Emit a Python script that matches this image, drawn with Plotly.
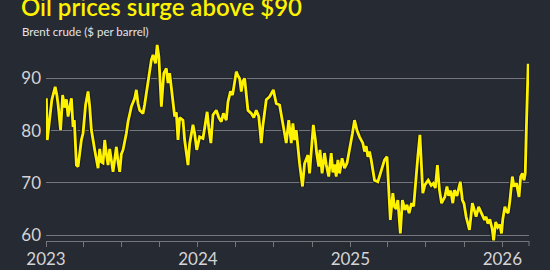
import plotly.graph_objects as go

# Brent crude, $ per barrel
dates = [
    "2023-01-02", "2023-01-04", "2023-01-15", "2023-01-23", "2023-01-27", "2023-01-30",
    "2023-02-05", "2023-02-10", "2023-02-15", "2023-02-19", "2023-02-23", "2023-03-03",
    "2023-03-07", "2023-03-10", "2023-03-15", "2023-03-19", "2023-03-27", "2023-03-31",
    "2023-04-06", "2023-04-12", "2023-04-16", "2023-04-20", "2023-04-28", "2023-05-06",
    "2023-05-10", "2023-05-14", "2023-05-18", "2023-05-22", "2023-05-26", "2023-05-30",
    "2023-06-03", "2023-06-07", "2023-06-11", "2023-06-15", "2023-06-19", "2023-06-23",
    "2023-06-27", "2023-07-01", "2023-07-05", "2023-07-13", "2023-07-17", "2023-07-25",
    "2023-08-02", "2023-08-06", "2023-08-10", "2023-08-14", "2023-08-22", "2023-08-26",
    "2023-09-03", "2023-09-11", "2023-09-15", "2023-09-21", "2023-09-25", "2023-09-29",
    "2023-10-05", "2023-10-08", "2023-10-11", "2023-10-17", "2023-10-21", "2023-10-25",
    "2023-10-29", "2023-11-06", "2023-11-10", "2023-11-14", "2023-11-18", "2023-11-26",
    "2023-11-30", "2023-12-08", "2023-12-12", "2023-12-20", "2023-12-24", "2023-12-29",
    "2024-01-05", "2024-01-13", "2024-01-17", "2024-01-23", "2024-01-27", "2024-02-01",
    "2024-02-06", "2024-02-14", "2024-02-20", "2024-02-26", "2024-03-02", "2024-03-09",
    "2024-03-13", "2024-03-19", "2024-03-24", "2024-04-02", "2024-04-06", "2024-04-10",
    "2024-04-14", "2024-04-18", "2024-04-22", "2024-04-26", "2024-04-30", "2024-05-08",
    "2024-05-14", "2024-05-20", "2024-05-26", "2024-06-01", "2024-06-05", "2024-06-13",
    "2024-06-21", "2024-06-30", "2024-07-07", "2024-07-15", "2024-07-23", "2024-07-31",
    "2024-08-06", "2024-08-12", "2024-08-16", "2024-08-20", "2024-08-24", "2024-08-28",
    "2024-09-01", "2024-09-08", "2024-09-13", "2024-09-17", "2024-09-21", "2024-09-25",
    "2024-09-30", "2024-10-04", "2024-10-09", "2024-10-12", "2024-10-17", "2024-10-20",
    "2024-10-25", "2024-10-31", "2024-11-04", "2024-11-10", "2024-11-16", "2024-11-20",
    "2024-11-24", "2024-11-28", "2024-12-02", "2024-12-06", "2024-12-12", "2024-12-18",
    "2024-12-24", "2025-01-01", "2025-01-06", "2025-01-11", "2025-01-17", "2025-01-23",
    "2025-01-31", "2025-02-04", "2025-02-08", "2025-02-12", "2025-02-16", "2025-02-20",
    "2025-02-28", "2025-03-08", "2025-03-16", "2025-03-24", "2025-03-30", "2025-04-04",
    "2025-04-07", "2025-04-13", "2025-04-17", "2025-04-21", "2025-04-25", "2025-05-01",
    "2025-05-06", "2025-05-12", "2025-05-17", "2025-05-22", "2025-05-28", "2025-06-02",
    "2025-06-07", "2025-06-12", "2025-06-17", "2025-06-21", "2025-06-24", "2025-06-29",
    "2025-07-07", "2025-07-14", "2025-07-19", "2025-07-24", "2025-07-29", "2025-08-03",
    "2025-08-08", "2025-08-16", "2025-08-21", "2025-08-25", "2025-08-30", "2025-09-04",
    "2025-09-08", "2025-09-14", "2025-09-22", "2025-09-27", "2025-10-01", "2025-10-06",
    "2025-10-14", "2025-10-21", "2025-10-25", "2025-10-30", "2025-11-05", "2025-11-12",
    "2025-11-19", "2025-11-23", "2025-11-27", "2025-12-02", "2025-12-08", "2025-12-11",
    "2025-12-16", "2025-12-21", "2025-12-26", "2025-12-30", "2026-01-02", "2026-01-07",
    "2026-01-11", "2026-01-15", "2026-01-19", "2026-01-25", "2026-01-29", "2026-02-04",
    "2026-02-10", "2026-02-14", "2026-02-18", "2026-02-22", "2026-02-25", "2026-02-28",
    "2026-03-02", "2026-03-04",
]
brent = [
    86.2, 78.2, 85.9, 88.4, 86.8, 85.0,
    80.1, 86.8, 84.4, 86.0, 82.7, 86.2,
    80.7, 82.0, 73.4, 73.1, 78.2, 79.5,
    84.9, 87.5, 84.6, 80.1, 76.3, 72.8,
    76.5, 74.0, 73.8, 78.2, 75.5, 73.4,
    76.5, 74.0, 72.1, 74.5, 76.9, 74.0,
    72.1, 75.5, 76.3, 79.5, 81.7, 84.6,
    86.2, 87.8, 85.2, 83.9, 83.3, 85.0,
    89.7, 93.5, 94.5, 92.9, 96.4, 94.2,
    84.6, 87.5, 91.0, 91.9, 89.1, 91.0,
    87.8, 82.7, 83.5, 78.2, 82.5, 82.0,
    78.2, 73.4, 77.5, 81.1, 79.5, 76.3,
    78.8, 78.5, 80.5, 83.6, 80.5, 77.6,
    83.0, 83.9, 82.5, 81.7, 83.3, 82.0,
    85.5, 87.5, 86.8, 91.3, 90.5, 90.0,
    87.5, 89.5, 90.0, 87.1, 83.9, 83.3,
    82.5, 83.9, 82.7, 77.6, 81.0, 85.9,
    86.5, 87.8, 85.2, 84.9, 81.1, 77.6,
    82.0, 77.6, 81.4, 78.2, 80.1, 76.3,
    73.7, 69.3, 73.7, 74.5, 75.3, 71.8,
    76.5, 81.1, 78.2, 75.7, 73.1, 76.3,
    71.8, 75.7, 73.5, 71.2, 75.7, 72.0,
    73.5, 71.2, 74.4, 71.8, 74.7, 72.8,
    73.8, 76.9, 79.5, 82.0, 80.0, 78.8,
    77.6, 76.0, 77.0, 75.0, 76.0, 74.4,
    70.5, 70.2, 72.1, 74.4, 75.0, 67.3,
    62.9, 68.0, 65.4, 65.0, 66.7, 60.3,
    66.7, 64.8, 65.8, 64.2, 66.1, 65.5,
    71.2, 75.0, 79.2, 73.1, 68.0, 69.6,
    70.5, 69.5, 69.9, 69.0, 73.4, 68.6,
    66.1, 67.3, 69.3, 67.5, 68.5, 66.1,
    68.6, 67.5, 70.2, 66.7, 66.0, 63.5,
    61.0, 66.1, 65.0, 63.5, 65.4, 64.0,
    62.9, 63.5, 62.2, 63.0, 61.0, 59.0,
    62.5, 61.5, 62.0, 60.3, 63.0, 65.4,
    64.5, 64.2, 66.5, 71.2, 69.3, 69.9,
    67.3, 71.2, 71.8, 70.5, 71.8, 81.4,
    87.1, 92.8,
]

y_ticks = [60, 70, 80, 90]
x_tick_labels = ["2023", "2024", "2025", "2026"]

title_text = "Oil prices surge above $90"
subtitle_text = "Brent crude ($ per barrel)"

BG = "#262a33"
GRID = "#74767c"
YELLOW = "#fff200"
TXT = "#d4d4d6"

W, H = 550, 270
ML, MR, MT, MB = 46, 21, 36, 29
plot_h = H - MT - MB
plot_w = W - ML - MR
px_per_unit = 5.22
y_min = 60 - (241 - 235) / px_per_unit
y_max = y_min + plot_h / px_per_unit

fig = go.Figure()
fig.add_trace(go.Scatter(x=dates, y=brent, mode="lines",
                         line=dict(color="#181b21", width=5), hoverinfo="skip"))
fig.add_trace(go.Scatter(x=dates, y=brent, mode="lines",
                         line=dict(color=YELLOW, width=2.8)))

def px_x(px):
    return (px - ML) / plot_w

def px_y(py):
    return (H - MB - py) / plot_h

fig.add_annotation(text=title_text, xref="paper", yref="paper",
                   x=px_x(19), y=px_y(6), xanchor="left", yanchor="middle",
                   showarrow=False,
                   font=dict(family="Lato", size=24, color=YELLOW, weight=600))
fig.add_annotation(text=subtitle_text, xref="paper", yref="paper",
                   x=px_x(20), y=px_y(31.5), xanchor="left", yanchor="middle",
                   showarrow=False,
                   font=dict(family="Lato", size=11.5, color="#e4e4e6"))

# end tick on the time axis
fig.add_shape(type="line", xref="paper", yref="paper",
              x0=1, x1=1, y0=0, y1=-5 / plot_h,
              line=dict(color=GRID, width=1))

fig.update_layout(
    width=W, height=H,
    margin=dict(l=ML, r=MR, t=MT, b=MB, pad=0),
    paper_bgcolor=BG, plot_bgcolor=BG,
    showlegend=False,
    xaxis=dict(
        type="date", automargin=False,
        range=["2023-01-01", "2026-03-06"],
        tickvals=[f"{y}-01-01" for y in x_tick_labels],
        ticktext=x_tick_labels,
        ticks="outside", ticklen=5, tickcolor=GRID, tickwidth=1,
        ticklabelstandoff=-2,
        showgrid=False, zeroline=False,
        showline=True, linecolor=GRID, linewidth=1,
        tickfont=dict(family="Lato", size=17, color=TXT),
        minor=dict(dtick="M3", tick0="2023-01-01", ticks="outside",
                   ticklen=5, tickcolor=GRID, showgrid=False),
    ),
    yaxis=dict(
        range=[y_min, y_max], automargin=False,
        tickvals=y_ticks,
        ticktext=[str(v) for v in y_ticks],
        showgrid=True, gridcolor=GRID, gridwidth=1,
        zeroline=False, showline=False, ticks="",
        ticklabelstandoff=4,
        tickfont=dict(family="Lato", size=17, color=TXT),
    ),
)

fig.write_html("out.html")
